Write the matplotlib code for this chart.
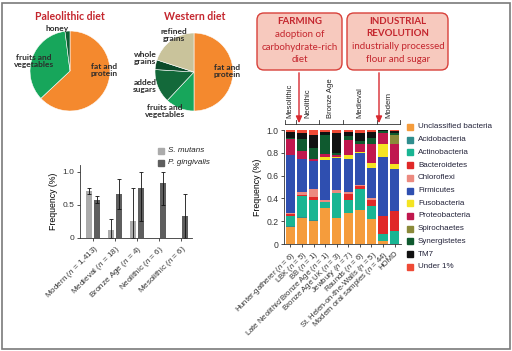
import matplotlib
matplotlib.use("Agg")
import matplotlib.pyplot as plt
import matplotlib.transforms as mtransforms
from matplotlib.patches import Rectangle, FancyBboxPatch, FancyArrowPatch
import numpy as np

W, H = 512, 351

plt.rcParams["font.family"] = "Liberation Sans"
plt.rcParams["mathtext.fontset"] = "custom"
plt.rcParams["mathtext.it"] = "Liberation Sans:italic"
plt.rcParams["mathtext.rm"] = "Liberation Sans"

# ----------------------------- data -------------------------------

paleo_labels = ["fat and\nprotein", "fruits and\nvegetables", "honey"]
paleo_share = [63, 35, 2]
western_labels = ["fat and\nprotein", "fruits and\nvegetables", "added\nsugars",
                  "whole\ngrains", "refined\ngrains"]
western_share = [50, 12, 14, 4, 20]

periods = ["Modern ($n$ = 1,413)", "Medieval ($n$ = 18)", "Bronze Age ($n$ = 4)",
           "Neolithic ($n$ = 6)", "Mesolithic ($n$ = 6)"]
s_mutans = [0.71, 0.12, 0.25, 0.0, 0.0]
s_mutans_lo = [0.67, 0.0, 0.0, 0.0, 0.0]
s_mutans_hi = [0.76, 0.28, 0.75, 0.0, 0.0]
p_ging = [0.57, 0.67, 0.75, 0.83, 0.33]
p_ging_lo = [0.52, 0.44, 0.25, 0.50, 0.0]
p_ging_hi = [0.63, 0.89, 1.0, 1.0, 0.67]

samples = ["Hunter-gatherer ($n$ = 6)", "LBK ($n$ = 5)", "BB ($n$ = 1)",
           "Late Neolithic/Bronze Age ($n$ = 1)", "Bronze Age UK ($n$ = 3)",
           "Jewbury ($n$ = 7)", "Raunds ($n$ = 6)",
           "St. Helen-on-the-Walls ($n$ = 5)", "Modern oral samples ($n$ = 44)",
           "HOMD"]
phyla = ["Unclassified bacteria", "Acidobacteria", "Actinobacteria",
         "Bacteroidetes", "Chloroflexi", "Firmicutes", "Fusobacteria",
         "Proteobacteria", "Spirochaetes", "Synergistetes", "TM7", "Under 1%"]
unclassified = [0.15, 0.23, 0.205, 0.315, 0.225, 0.275, 0.295, 0.215, 0.03, 0.0]
acidobacteria = [0.005, 0.005, 0.005, 0.0, 0.005, 0.0, 0.005, 0.005, 0.0, 0.0]
actinobacteria = [0.095, 0.185, 0.18, 0.055, 0.215, 0.115, 0.18, 0.115, 0.06, 0.115]
bacteroidetes = [0.01, 0.01, 0.02, 0.0, 0.0, 0.05, 0.025, 0.05, 0.155, 0.175]
chloroflexi = [0.01, 0.03, 0.07, 0.015, 0.025, 0.015, 0.015, 0.02, 0.0, 0.0]
firmicutes = [0.51, 0.29, 0.25, 0.355, 0.285, 0.295, 0.28, 0.26, 0.52, 0.365]
fusobacteria = [0.0, 0.0, 0.0, 0.02, 0.01, 0.035, 0.01, 0.045, 0.115, 0.05]
proteobacteria = [0.14, 0.07, 0.02, 0.03, 0.015, 0.125, 0.065, 0.17, 0.09, 0.175]
spirochaetes = [0.0, 0.0, 0.0, 0.0, 0.0, 0.0, 0.0, 0.0, 0.005, 0.075]
synergistetes = [0.01, 0.105, 0.09, 0.17, 0.02, 0.035, 0.03, 0.05, 0.015, 0.02]
tm7 = [0.05, 0.045, 0.115, 0.025, 0.175, 0.035, 0.07, 0.05, 0.01, 0.015]
under1 = [0.02, 0.03, 0.045, 0.015, 0.025, 0.02, 0.025, 0.02, 0.005, 0.01]

eras = ["Mesolithic", "Neolithic", "Bronze Age", "Medieval", "Modern"]
era_edges = [-0.5, 0.5, 2.5, 4.5, 7.5, 9.5]

# ----------------------------- style ------------------------------

RED = "#c4262e"
PHYLA_COLORS = ["#f59c3c", "#2f8e8e", "#19b593", "#e02828", "#ec8a80",
                "#2f4fb0", "#f4e422", "#c0174e", "#8b8a3a", "#0f5a2f",
                "#111111", "#ef4a36"]
PIE_FONT = "Lato"


def px_rect(left, top, w, h):
    return [left / W, 1 - (top + h) / H, w / W, h / H]


def ftext(x, y, s, **kw):
    return fig.text(x / W, 1 - y / H, s, **kw)


ID = mtransforms.IdentityTransform()

fig = plt.figure(figsize=(W / 100, H / 100), dpi=100)


# ----------------------------- pies -------------------------------

def draw_pie(rect, shares, colors):
    ax = fig.add_axes(rect)
    ax.pie(shares, colors=colors, startangle=90, counterclock=False,
           wedgeprops=dict(edgecolor="white", linewidth=0.4))
    ax.set_xlim(-1, 1)
    ax.set_ylim(-1, 1)
    return ax


draw_pie(px_rect(30, 31, 80, 80), paleo_share, ["#f4892e", "#17a65b", "#0d5e33"])
draw_pie(px_rect(155, 33, 78, 78), western_share,
         ["#f4892e", "#17a65b", "#13693a", "#0b4a2a", "#c9c39b"])

ftext(70, 17, "Paleolithic diet", color=RED, family=PIE_FONT, weight="bold",
      fontsize=7.6, ha="center", va="center")
ftext(195, 17, "Western diet", color=RED, family=PIE_FONT, weight="bold",
      fontsize=7.6, ha="center", va="center")

pie_kw = dict(family=PIE_FONT, weight="bold", fontsize=6, color="#2b2b2b",
              ha="center", va="center", linespacing=1.05)
for (x, y), lab in zip([(104, 70), (34, 61), (57, 29)], paleo_labels):
    ftext(x, y, lab, **pie_kw)
for (x, y), lab in zip([(227, 71), (165, 111), (145, 86), (145, 58), (174, 35)],
                       western_labels):
    ftext(x, y, lab, **pie_kw)

# --------------------------- boxes --------------------------------

for left, right in [(257, 342), (347, 448)]:
    box = FancyBboxPatch((left, H - 70), right - left, 57,
                         boxstyle="round,pad=0,rounding_size=7",
                         facecolor="#f7c9be", edgecolor="#d8403a",
                         linewidth=1.0, transform=ID)
    fig.add_artist(box)

box_kw = dict(family=PIE_FONT, fontsize=7, color=RED, ha="center", va="center")
ftext(300, 21.7, "FARMING", weight="bold", **box_kw)
ftext(300, 34.5, "adoption of", **box_kw)
ftext(300, 47, "carbohydrate-rich", **box_kw)
ftext(300, 59.5, "diet", **box_kw)
ftext(398, 21.7, "INDUSTRIAL", weight="bold", **box_kw)
ftext(398, 34, "REVOLUTION", weight="bold", **box_kw)
ftext(398, 46.7, "industrially processed", **box_kw)
ftext(398, 59.5, "flour and sugar", **box_kw)

for x in [299, 379]:
    arr = FancyArrowPatch((x, H - 70), (x, H - 126),
                          arrowstyle="-|>,head_length=4,head_width=1.8",
                          mutation_scale=1, color="#d8282f", linewidth=1.0,
                          transform=ID)
    fig.add_artist(arr)

# ----------------------- bottom-left bars -------------------------

ax1 = fig.add_axes(px_rect(80, 165, 112, 73))
xg = np.arange(len(periods))
off, bw = 0.17, 0.27
ax1.bar(xg - off, s_mutans, bw, color="#ababab")
ax1.bar(xg + off, p_ging, bw, color="#5e5e5e")
sm = np.array(s_mutans)
keep = np.array(s_mutans_hi) > 0
ax1.errorbar((xg - off)[keep], sm[keep],
             yerr=[(sm - np.array(s_mutans_lo))[keep],
                   (np.array(s_mutans_hi) - sm)[keep]],
             fmt="none", ecolor="#111111", elinewidth=0.6, capsize=1.5,
             capthick=0.6)
pg = np.array(p_ging)
ax1.errorbar(xg + off, pg, yerr=[pg - np.array(p_ging_lo), np.array(p_ging_hi) - pg],
             fmt="none", ecolor="#111111", elinewidth=0.6, capsize=1.5,
             capthick=0.6)
ax1.set_xlim(-0.6, 4.5)
ax1.set_ylim(0, 1.1)
ax1.set_yticks([0, 0.5, 1.0])
ax1.set_yticklabels(["0", "0.5", "1.0"])
ax1.set_xticks(xg)
ax1.set_xticklabels(periods, rotation=45, ha="right", va="top",
                    rotation_mode="anchor")
ax1.set_ylabel("Frequency (%)", fontsize=6.3, labelpad=3)
for s in ["top", "right"]:
    ax1.spines[s].set_visible(False)
for s in ["left", "bottom"]:
    ax1.spines[s].set_linewidth(0.6)
    ax1.spines[s].set_color("#333333")
ax1.tick_params(axis="y", labelsize=6, length=2.5, width=0.6, pad=1.5,
                colors="#333333")
ax1.tick_params(axis="x", labelsize=5.9, length=2.5, width=0.6, pad=1.5,
                colors="#333333")

for y, lab, col in [(151, "S. mutans", "#ababab"), (163, "P. gingivalis", "#5e5e5e")]:
    fig.add_artist(Rectangle((158, H - y - 3), 6, 6, color=col, transform=ID))
    ftext(168, y, lab, style="italic", fontsize=5.8, va="center", color="#222222")

# ----------------------- stacked bars -----------------------------

ax2 = fig.add_axes(px_rect(284, 130, 117, 114))
series = [unclassified, acidobacteria, actinobacteria, bacteroidetes,
          chloroflexi, firmicutes, fusobacteria, proteobacteria, spirochaetes,
          synergistetes, tm7, under1]
xs = np.arange(len(samples))
bottom = np.zeros(len(samples))
for vals, col in zip(series, PHYLA_COLORS):
    ax2.bar(xs, vals, 0.82, bottom=bottom, color=col, linewidth=0)
    bottom += np.array(vals)
ax2.set_xlim(-0.55, 9.55)
ax2.set_ylim(0, 1.0)
ax2.set_yticks(np.arange(0, 1.01, 0.2))
ax2.set_yticklabels(["0", "0.2", "0.4", "0.6", "0.8", "1.0"])
ax2.set_xticks(xs)
ax2.set_xticklabels(samples, rotation=45, ha="right", va="top",
                    rotation_mode="anchor")
ax2.set_ylabel("Frequency (%)", fontsize=6.3, labelpad=3)
for s in ["top", "right"]:
    ax2.spines[s].set_visible(False)
for s in ["left", "bottom"]:
    ax2.spines[s].set_linewidth(0.6)
    ax2.spines[s].set_color("#333333")
ax2.tick_params(axis="y", labelsize=6.2, length=2.5, width=0.6, pad=1.5,
                colors="#333333")
ax2.tick_params(axis="x", labelsize=5.6, length=2.5, width=0.6, pad=1.5,
                colors="#333333")

# period bracket above the stacked bars
tr = mtransforms.blended_transform_factory(ax2.transData, ax2.transAxes)
y_line = 1 + 6 / 114
y_tick = 1 + 10 / 114
ax2.plot([era_edges[0], era_edges[-1]], [y_line, y_line], color="#333333",
         lw=0.6, transform=tr, clip_on=False)
for e in era_edges:
    ax2.plot([e, e], [y_line, y_tick], color="#333333", lw=0.6, transform=tr,
             clip_on=False)
for i, name in enumerate(eras):
    xc = (era_edges[i] + era_edges[i + 1]) / 2
    ax2.text(xc, 1 + 12 / 114, name, rotation=90, ha="center", va="bottom",
             fontsize=5.5, transform=tr, color="#222222")

# legend
for i, (name, col) in enumerate(zip(phyla, PHYLA_COLORS)):
    y = 127 + 12.7 * i
    fig.add_artist(Rectangle((407, H - y - 3), 6, 6, color=col, transform=ID))
    ftext(418, y, name, fontsize=5.8, va="center", color="#23233a")

# frame round the whole figure
fig.add_artist(Rectangle((2, 2), W - 4.5, H - 4.5, fill=False,
                         edgecolor="#7a7a7a", linewidth=1.2, transform=ID))

fig.savefig("out.png", dpi=100)
